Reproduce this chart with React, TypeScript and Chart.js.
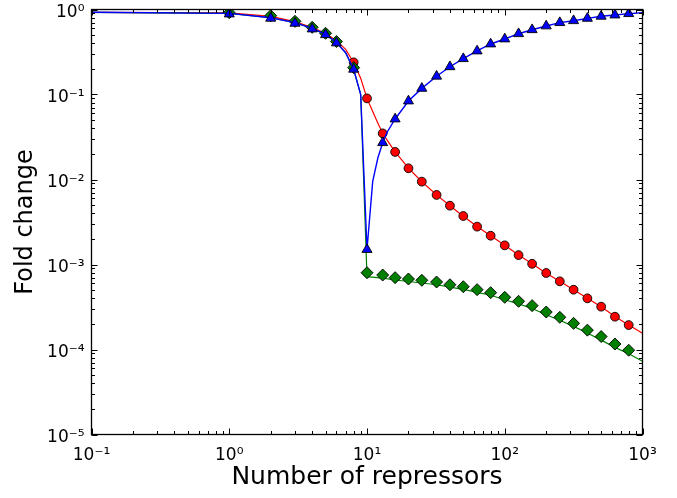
import React, { useEffect, useRef } from 'react';
import { Chart, registerables } from 'chart.js';
Chart.register(...registerables);

// ---------- data ----------
const markerN = [1, 2, 3, 4, 5, 6, 8, 10, 13, 16, 20, 25, 32, 40, 50, 63, 79, 100, 126, 158, 200, 251, 316, 398, 501, 631, 794];
const redMarkerN = [8, 10, 13, 16, 20, 25, 32, 40, 50, 63, 79, 100, 126, 158, 200, 251, 316, 398, 501, 631, 794];
const redMarkers = [0.239, 0.09, 0.0349, 0.0211, 0.01355, 0.00944, 0.00658, 0.00492, 0.00372, 0.00279, 0.00218,
  0.00168, 0.00129, 0.00102, 0.000794, 0.000634, 0.000505, 0.0004, 0.000319, 0.000243, 0.000194];
const blueMarkers = [0.885, 0.788, 0.688, 0.59, 0.505, 0.404, 0.198,
  0.0015, 0.0271, 0.0515, 0.0839, 0.118, 0.164, 0.212, 0.264, 0.325, 0.393,
  0.45, 0.519, 0.578, 0.64, 0.7, 0.738, 0.787, 0.832, 0.861, 0.893];
const greenMarkers = [0.917, 0.846, 0.726, 0.617, 0.525, 0.42, 0.207,
  0.0008, 0.000752, 0.0007, 0.000675, 0.000652, 0.000622, 0.000578, 0.000548, 0.000506, 0.000466,
  0.000411, 0.000369, 0.000328, 0.000276, 0.000239, 0.000203, 0.000169, 0.000142, 0.000116, 0.000098];

const lineN = [0.1, 1, 2, 3, 4, 5, 6, 7, 8, 9, 10, 11, 12, 13, 14, 16, 20, 25, 32, 40, 50, 63, 79, 100, 126, 158, 200, 251, 316, 398, 501, 631, 794, 1000];
const redLine = [0.927, 0.915, 0.83, 0.72, 0.615, 0.525, 0.43, 0.34, 0.238, 0.155,
  0.09, 0.063, 0.046, 0.035, 0.029, 0.0211, 0.0136, 0.0094, 0.0066, 0.0049,
  0.0037, 0.0028, 0.00218, 0.00168, 0.00129, 0.00102, 0.00079, 0.000634, 0.000505, 0.0004,
  0.000319, 0.000245, 0.000194, 0.000155];
const blueLine = [0.927, 0.9, 0.8, 0.7, 0.6, 0.51, 0.41, 0.31, 0.198, 0.1,
  0.0015, 0.0095, 0.018, 0.027, 0.036, 0.0515, 0.0839, 0.118, 0.164, 0.212,
  0.264, 0.325, 0.393, 0.45, 0.519, 0.578, 0.64, 0.7, 0.738, 0.787,
  0.832, 0.861, 0.893, 0.918];
const greenLineN = [0.1, 1, 2, 3, 4, 5, 6, 7, 8, 9, 10, 13, 16, 20, 25, 32, 40, 50, 63, 79, 100, 126, 158, 200, 251, 316, 398, 501, 631, 794, 1000];
const greenLine = [0.927, 0.9, 0.8, 0.7, 0.6, 0.51, 0.41, 0.31, 0.198, 0.1,
  0.00072, 0.000693, 0.000657, 0.000631, 0.000606, 0.000578, 0.000543, 0.00051, 0.000471, 0.000435,
  0.000385, 0.000344, 0.000304, 0.000256, 0.000221, 0.000187, 0.000156, 0.000129, 0.000106, 0.0000893,
  0.0000727];

const xTickValues = [0.1, 1, 10, 100, 1000];
const yTickValues = [1e-5, 1e-4, 1e-3, 1e-2, 1e-1, 1];
const xTitle = 'Number of repressors';
const yTitle = 'Fold change';

// ---------- helpers ----------
const SUP: Record<string, string> = { '-': '⁻', '0': '⁰', '1': '¹', '2': '²', '3': '³', '4': '⁴', '5': '⁵', '6': '⁶', '7': '⁷', '8': '⁸', '9': '⁹' };
const powLabel = (v: number) => {
  const e = Math.round(Math.log10(v));
  return '10' + String(e).split('').map((c) => SUP[c]).join('');
};
const pts = (xs: number[], ys: number[]) => xs.map((x, i) => ({ x, y: ys[i] }));

const FONT = 'DejaVu Sans';

const framePlugin = {
  id: 'frameTicks',
  afterDraw(chart: any) {
    const { ctx, chartArea: a, scales } = chart;
    const xs = scales.x, ys = scales.y;
    ctx.save();
    ctx.strokeStyle = '#000';
    ctx.lineWidth = 1;
    ctx.beginPath();
    const maj = 6, min = 3.5;
    for (let n = -1; n <= 3; n++) {
      for (let m = 1; m <= 9; m++) {
        const v = m * Math.pow(10, n);
        if (v > 1000.0001) break;
        const px = Math.round(xs.getPixelForValue(v)) + 0.5;
        const L = m === 1 ? maj : min;
        ctx.moveTo(px, a.bottom); ctx.lineTo(px, a.bottom - L);
        ctx.moveTo(px, a.top); ctx.lineTo(px, a.top + L);
      }
    }
    for (let n = -5; n <= 0; n++) {
      for (let m = 1; m <= 9; m++) {
        const v = m * Math.pow(10, n);
        if (v > 1.0001) break;
        const py = Math.round(ys.getPixelForValue(v)) + 0.5;
        const L = m === 1 ? maj : min;
        ctx.moveTo(a.left, py); ctx.lineTo(a.left + L, py);
        ctx.moveTo(a.right, py); ctx.lineTo(a.right - L, py);
      }
    }
    ctx.stroke();
    ctx.lineWidth = 1.3;
    ctx.strokeRect(a.left, a.top, a.right - a.left, a.bottom - a.top);
    ctx.restore();
  },
};

export default function App() {
  const ref = useRef<HTMLCanvasElement>(null);
  useEffect(() => {
    if (!ref.current) return;
    const markerBase = { showLine: false, pointBorderColor: '#000', pointBorderWidth: 0.9, pointHoverRadius: 0 };
    const lineBase = { pointRadius: 0, pointHoverRadius: 0, tension: 0, fill: false };
    const chart = new Chart(ref.current, {
      type: 'line',
      data: {
        datasets: [
          { ...markerBase, order: 0, data: pts(markerN, blueMarkers), pointStyle: 'triangle', pointRadius: 5.8, pointBackgroundColor: '#0000ff', backgroundColor: '#0000ff', borderColor: '#0000ff' },
          { ...lineBase, order: 1, data: pts(lineN, blueLine), borderColor: '#0000ff', borderWidth: 1.4 },
          { ...markerBase, order: 2, data: pts(markerN, greenMarkers), pointStyle: 'rectRot', pointRadius: 6, pointBackgroundColor: '#007f00', backgroundColor: '#007f00', borderColor: '#007f00' },
          { ...lineBase, order: 3, data: pts(greenLineN, greenLine), borderColor: '#008000', borderWidth: 1.2 },
          { ...markerBase, order: 4, data: pts(redMarkerN, redMarkers), pointStyle: 'circle', pointRadius: 4.4, pointBackgroundColor: '#ff0000', backgroundColor: '#ff0000', borderColor: '#ff0000' },
          { ...lineBase, order: 5, data: pts(lineN, redLine), borderColor: '#ff0000', borderWidth: 1.2 },
        ] as any,
      },
      options: {
        animation: false,
        responsive: false,
        devicePixelRatio: 1,
        events: [],
        layout: { autoPadding: false, padding: { left: 0, right: 34.5, top: 9.5, bottom: 0 } },
        plugins: { legend: { display: false }, tooltip: { enabled: false }, title: { display: false } },
        scales: {
          x: {
            type: 'logarithmic', min: 0.1, max: 1000,
            grid: { display: false, drawTicks: false }, border: { display: false },
            afterBuildTicks: (s: any) => { s.ticks = xTickValues.map((v) => ({ value: v, major: true })); },
            afterFit: (s: any) => { s.height = 63.5; s.paddingLeft = 0; s.paddingRight = 0; },
            ticks: { autoSkip: false, maxRotation: 0, minRotation: 0, padding: 11, color: '#000', font: { family: FONT, size: 17 }, callback: (v: any) => powLabel(Number(v)) },
            title: { display: true, text: xTitle, color: '#000', font: { family: FONT, size: 25, lineHeight: 1 }, padding: { top: 0, bottom: 8 } },
          },
          y: {
            type: 'logarithmic', min: 1e-5, max: 1,
            grid: { display: false, drawTicks: false }, border: { display: false },
            afterBuildTicks: (s: any) => { s.ticks = yTickValues.map((v) => ({ value: v, major: true })); },
            afterFit: (s: any) => { s.width = 91.5; s.paddingTop = 0; s.paddingBottom = 0; },
            ticks: { autoSkip: false, padding: 7, labelOffset: 3, color: '#000', font: { family: FONT, size: 17 }, callback: (v: any) => powLabel(Number(v)) },
            title: { display: true, text: yTitle, color: '#000', font: { family: FONT, size: 24, lineHeight: 1 }, padding: { top: 14, bottom: 0 } },
          },
        },
      } as any,
      plugins: [framePlugin],
    });
    return () => chart.destroy();
  }, []);
  return (
    <div style={{ position: 'absolute', left: 0, top: 0, width: 677, height: 498, background: '#fff' }}>
      <canvas ref={ref} width={677} height={498} style={{ display: 'block', width: 677, height: 498 }} />
    </div>
  );
}
